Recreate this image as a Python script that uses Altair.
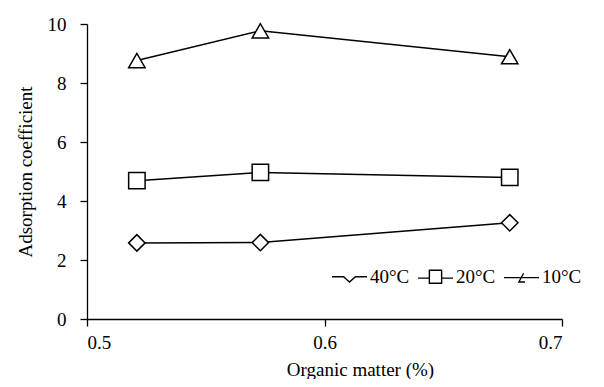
import altair as alt
import pandas as pd

organic = [0.521, 0.573, 0.678]
series_names = ["40°C", "20°C", "10°C"]
coef_40 = [2.58, 2.59, 3.26]
coef_20 = [4.69, 4.97, 4.80]
coef_10 = [8.76, 9.77, 8.89]

rows = []
for name, vals in zip(series_names, [coef_40, coef_20, coef_10]):
    for x, y in zip(organic, vals):
        rows.append({"om": x, "coef": y, "series": name, "key": name})
df = pd.DataFrame(rows)

FONT = "Liberation Serif"
FS = 19

x_enc = alt.X("om:Q", scale=alt.Scale(domain=[0.5, 0.7], nice=False, zero=False),
              axis=alt.Axis(values=[0.5, 0.6, 0.7], format=".1f", title="Organic matter (%)",
                            titleX=273, titleY=60, titleBaseline="bottom", titleAnchor="middle",
                            labelPadding=7))
y_enc = alt.Y("coef:Q", scale=alt.Scale(domain=[0, 10], nice=False),
              axis=alt.Axis(values=[0, 2, 4, 6, 8, 10], title="Adsorption coefficient",
                            labelPadding=14, titleX=-62, titleBaseline="middle"))

legend_paths = [
    "M-1,0H-0.34L0,0.3L0.34,0H1",
    "M-1,0.08H-0.35M0.35,0.08H1M-0.35,-0.37H0.35V0.37H-0.35Z",
    "M-1,0.05H1M0.12,-0.2L-0.15,0.3H0.2",
]

lines = alt.Chart(df).mark_line(color="black", strokeWidth=1.5).encode(
    x=x_enc, y=y_enc, detail="series:N"
)

points = alt.Chart(df).mark_point(filled=True, fill="white", stroke="black",
                                  strokeWidth=1.5, size=270, opacity=1).encode(
    x=x_enc, y=y_enc,
    shape=alt.Shape("series:N",
                    scale=alt.Scale(domain=series_names, range=["diamond", "square", "triangle-up"]),
                    legend=None)
)

legend_layer = alt.Chart(df).transform_filter("false").mark_point(
    filled=False, color="black", strokeWidth=1.4, size=1225, opacity=1
).encode(
    x=x_enc, y=y_enc,
    shape=alt.Shape("key:N",
                    scale=alt.Scale(domain=series_names, range=legend_paths),
                    legend=alt.Legend(
                        title=None, orient="none", direction="horizontal",
                        legendX=244, legendY=234,
                        symbolSize=1225, symbolStrokeWidth=1.4, symbolStrokeColor="black",
                        symbolOpacity=1,
                        labelFont=FONT, labelFontSize=FS, labelColor="black",
                        labelOffset=2, columnPadding=5,
                    ))
)

chart = (lines + points + legend_layer).resolve_scale(shape="independent").properties(
    width=475, height=295, background="white",
    autosize=alt.AutoSizeParams(type="none"),
    padding={"left": 79, "top": 16, "right": 34, "bottom": 60},
).configure_view(stroke=None).configure_axis(
    grid=False, domainColor="black", tickColor="black", domainWidth=1.3, tickWidth=1.3,
    tickSize=7, labelFont=FONT, titleFont=FONT, labelFontSize=FS, titleFontSize=FS,
    labelColor="black", titleColor="black", titleFontWeight="normal",
)

chart.save("out.html", embed_options={"renderer": "svg", "actions": False})
